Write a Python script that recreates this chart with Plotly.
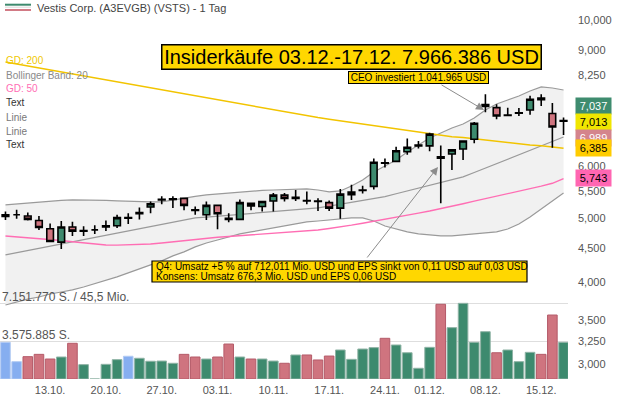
import plotly.graph_objects as go
import numpy as np

# ---------------- data ----------------
dates = ["07.10.", "08.10.", "09.10.", "10.10.", "13.10.", "14.10.", "15.10.", "16.10.", "17.10.",
         "20.10.", "21.10.", "22.10.", "23.10.", "24.10.", "27.10.", "28.10.", "29.10.", "30.10.", "31.10.",
         "03.11.", "04.11.", "05.11.", "06.11.", "07.11.", "10.11.", "11.11.", "12.11.", "13.11.", "14.11.",
         "17.11.", "18.11.", "19.11.", "20.11.", "21.11.", "24.11.", "25.11.", "26.11.", "28.11.",
         "01.12.", "02.12.", "03.12.", "04.12.", "05.12.", "08.12.", "09.12.", "10.12.", "11.12.", "12.12.",
         "15.12.", "16.12.", "17.12."]

opens = [5.03, 5.06, 5.04, 4.96, 4.82, 4.60, 4.85, 4.78, 4.80, 4.85, 4.87, 5.00, 5.08, 5.20, 5.33, 5.34,
         5.36, 5.15, 5.06, 5.23, 5.00, 4.98, 5.27, 5.21, 5.31, 5.42, 5.36, 5.32, 5.31, 5.28, 5.18, 5.43,
         5.51, 5.59, 6.07, 6.10, 6.31, 6.44, 6.44, 6.17, 6.26, 6.37, 6.59, 7.44, 7.36, 7.16, 7.22, 7.30,
         7.61, 7.21, 7.02]
highs = [5.12, 5.15, 5.10, 5.04, 4.91, 4.95, 4.94, 4.86, 4.88, 4.96, 5.06, 5.09, 5.19, 5.30, 5.40, 5.40,
         5.36, 5.21, 5.30, 5.23, 5.09, 5.34, 5.27, 5.30, 5.46, 5.46, 5.52, 5.49, 5.36, 5.32, 5.54, 5.62,
         5.60, 6.16, 6.16, 6.42, 6.61, 6.55, 6.74, 6.45, 6.35, 6.55, 7.00, 7.71, 7.45, 7.36, 7.35, 7.67,
         7.71, 7.48, 7.11]
lows = [4.97, 4.99, 4.96, 4.80, 4.61, 4.49, 4.70, 4.70, 4.73, 4.78, 4.83, 4.90, 4.98, 5.09, 5.25, 5.18,
        5.14, 5.06, 4.97, 4.81, 4.93, 4.98, 5.14, 5.12, 5.12, 5.30, 5.31, 5.25, 5.13, 5.13, 4.99, 5.33,
        5.45, 5.53, 5.97, 6.10, 6.24, 6.38, 6.32, 5.27, 5.92, 6.13, 6.50, 7.24, 7.07, 7.15, 7.15, 7.18,
        7.40, 6.40, 6.69]
closes = [5.06, 5.06, 4.98, 4.84, 4.61, 4.85, 4.78, 4.79, 4.80, 4.87, 5.01, 5.01, 5.10, 5.26, 5.34, 5.35,
          5.23, 5.14, 5.23, 5.08, 4.98, 5.28, 5.22, 5.30, 5.42, 5.36, 5.38, 5.31, 5.30, 5.18, 5.44, 5.48,
          5.52, 6.08, 6.06, 6.33, 6.41, 6.46, 6.71, 6.20, 6.35, 6.55, 6.97, 7.39, 7.15, 7.17, 7.23, 7.58,
          7.57, 6.88, 7.037]
volumes = [3450000, 1630000, 2100000, 2320000, 1880000, 2070000, 3360000, 1350000, 0, 1380000,
           1820000, 2140000, 1950000, 1670000, 1690000, 1480000, 2320000, 2070000, 1880000, 2070000,
           3290000, 2070000, 1880000, 1880000, 1690000, 1480000, 2260000, 2260000, 1790000, 2160000,
           2730000, 1850000, 2820000, 2950000, 3830000, 3200000, 2470000, 1010000, 2980000, 7030000,
           4830000, 7120000, 3450000, 4450000, 2470000, 2730000, 1630000, 2510000, 2320000, 6020000,
           3450000]

bb_upper = [5.238, 5.256, 5.274, 5.293, 5.311, 5.321, 5.330, 5.330, 5.330, 5.321, 5.311, 5.302, 5.293,
            5.293, 5.293, 5.330, 5.368, 5.396, 5.424, 5.443, 5.462, 5.481, 5.500, 5.510, 5.519, 5.529,
            5.539, 5.539, 5.519, 5.481, 5.500, 5.597, 5.715, 5.878, 6.003, 6.129, 6.304, 6.460, 6.620,
            6.736, 6.855, 6.952, 7.099, 7.300, 7.455, 7.560, 7.666, 7.802, 7.912, 7.884, 7.829]
bb_middle = [4.398, 4.432, 4.466, 4.499, 4.534, 4.570, 4.604, 4.640, 4.674, 4.710, 4.747, 4.782, 4.819,
             4.856, 4.893, 4.931, 4.968, 5.005, 5.020, 5.036, 5.052, 5.068, 5.084, 5.102, 5.118, 5.134,
             5.150, 5.166, 5.183, 5.215, 5.249, 5.284, 5.317, 5.351, 5.394, 5.447, 5.500, 5.554, 5.608,
             5.664, 5.719, 5.777, 5.866, 5.958, 6.050, 6.146, 6.241, 6.341, 6.443, 6.546, 6.643]
bb_lower = [3.691, 3.730, 3.769, 3.796, 3.836, 3.863, 3.891, 3.931, 3.975, 4.017, 4.073, 4.130, 4.188,
            4.247, 4.307, 4.383, 4.445, 4.523, 4.586, 4.634, 4.683, 4.733, 4.766, 4.799, 4.832, 4.866,
            4.900, 4.935, 4.952, 4.969, 4.987, 5.005, 5.005, 4.952, 4.866, 4.816, 4.766, 4.733, 4.716,
            4.700, 4.700, 4.716, 4.733, 4.749, 4.766, 4.816, 4.900, 5.022, 5.165, 5.311, 5.462]
gd50 = [4.700, 4.687, 4.673, 4.659, 4.643, 4.626, 4.605, 4.586, 4.565, 4.554, 4.551, 4.554, 4.560, 4.570,
        4.586, 4.605, 4.626, 4.646, 4.664, 4.678, 4.691, 4.703, 4.716, 4.728, 4.741, 4.754, 4.768, 4.782,
        4.799, 4.824, 4.849, 4.880, 4.914, 4.947, 4.978, 5.013, 5.051, 5.090, 5.128, 5.168, 5.213, 5.260,
        5.307, 5.352, 5.400, 5.449, 5.497, 5.545, 5.594, 5.650, 5.743]
gd200 = [8.634, 8.574, 8.514, 8.455, 8.396, 8.338, 8.280, 8.222, 8.165, 8.107, 8.051, 7.995, 7.939, 7.884,
         7.829, 7.774, 7.720, 7.666, 7.613, 7.560, 7.507, 7.455, 7.403, 7.352, 7.300, 7.249, 7.199, 7.149,
         7.110, 7.070, 7.030, 6.990, 6.940, 6.910, 6.870, 6.830, 6.790, 6.750, 6.720, 6.680, 6.650, 6.630,
         6.600, 6.570, 6.540, 6.520, 6.490, 6.460, 6.440, 6.410, 6.385]

tick_dates = ["13.10.", "20.10.", "27.10.", "03.11.", "10.11.", "17.11.", "24.11.", "01.12.", "08.12.", "15.12."]
price_ticks = [3.0, 3.25, 3.5, 4.0, 4.5, 5.0, 5.5, 6.0, 8.25, 9.0, 10.0]
price_tick_text = ["3,000", "3,250", "3,500", "4,000", "4,500", "5,000", "5,500", "6,000", "8,250", "9,000", "10,000"]
vol_grid = [3575885, 7151770]
vol_grid_text = ["3.575.885 S.", "7.151.770 S. / 45,5 Mio."]
last_values = [7.037, 7.013, 6.989, 6.385, 5.743]
legend_items = ["GD: 200", "Bollinger Band: 20", "GD: 50", "Text", "Linie", "Linie", "Text"]
title_text = "Vestis Corp. (A3EVGB) (VSTS) - 1 Tag"
insider_text = "Insiderkäufe 03.12.-17.12. 7.966.386 USD"
ceo_text = "CEO investiert 1.041.965 USD"
q4_lines = ["Q4: Umsatz +5 % auf 712,011 Mio. USD und EPS sinkt von 0,11 USD auf 0,03 USD",
            "Konsens: Umsatz 676,3 Mio. USD und EPS 0,06 USD"]

# ---------------- layout helpers ----------------
W, H = 619, 399
PW, PH = 568, 379          # plot area in pixels
FONT = "Liberation Sans, Arial, sans-serif"
def pxx(x): return x / PW
def pxy(y): return 1 - y / PH

xi = list(range(len(dates)))
GREEN, RED, BLUE = "#3d8a6e", "#cf747f", "#86aef0"

vol_colors, vol_lines = [], []
for i, c in enumerate(closes):
    if i == 0 or round(c - closes[i - 1], 4) == 0:
        vol_colors.append(BLUE); vol_lines.append("#b3cbf3")
    elif c > closes[i - 1]:
        vol_colors.append(GREEN); vol_lines.append("#8fb3a5")
    else:
        vol_colors.append(RED); vol_lines.append("#b45a68")

fig = go.Figure()
fig.add_trace(go.Scatter(x=xi, y=bb_upper, mode="lines", line=dict(color="#9a9a9a", width=1.2),
                         hoverinfo="skip", showlegend=False))
fig.add_trace(go.Scatter(x=xi, y=bb_lower, mode="lines", line=dict(color="#9a9a9a", width=1.2),
                         fill="tonexty", fillcolor="#f1f1f1", hoverinfo="skip", showlegend=False))
fig.add_trace(go.Scatter(x=xi, y=bb_middle, mode="lines", line=dict(color="#9a9a9a", width=1.2),
                         hoverinfo="skip", showlegend=False))
fig.add_trace(go.Scatter(x=xi, y=gd50, mode="lines", line=dict(color="#ff6eb4", width=1.4),
                         hoverinfo="skip", showlegend=False))
fig.add_trace(go.Scatter(x=xi, y=gd200, mode="lines", line=dict(color="#f2c400", width=1.5),
                         hoverinfo="skip", showlegend=False))
fig.add_trace(go.Bar(x=xi, y=volumes, yaxis="y2", width=0.86,
                     marker=dict(color=vol_colors, line=dict(color=vol_lines, width=1)),
                     showlegend=False, hoverinfo="skip"))
fig.add_trace(go.Candlestick(x=xi, open=opens, high=highs, low=lows, close=closes, yaxis="y3",
                             increasing=dict(fillcolor=GREEN, line=dict(color="black", width=1.6)),
                             decreasing=dict(fillcolor=RED, line=dict(color="black", width=1.6)),
                             whiskerwidth=0, showlegend=False, hoverinfo="skip"))

vol_top = vol_grid[1] * PH / 76.0
LOG_RANGE = [0.45484, 1.03036]

fig.update_layout(
    width=W, height=H,
    margin=dict(l=0, r=W - PW, t=0, b=H - PH, pad=0),
    paper_bgcolor="white", plot_bgcolor="white",
    font=dict(family=FONT, size=11, color="#555555"),
    boxgap=0.15, bargap=0.14,
    xaxis=dict(range=[-0.49, 50.4], showgrid=False, zeroline=False, showline=False, ticks="",
               tickmode="array", tickvals=[dates.index(d) for d in tick_dates], ticktext=tick_dates,
               tickfont=dict(size=11, color="#555555"), rangeslider=dict(visible=False), fixedrange=True,
               automargin=False, ticklabelstandoff=3),
    yaxis=dict(type="log", range=LOG_RANGE, side="right", showgrid=False, zeroline=False,
               showline=False, ticks="", tickmode="array", tickvals=price_ticks, ticktext=price_tick_text,
               tickfont=dict(size=11, color="#555555"), ticklabelstandoff=9, automargin=False),
    yaxis2=dict(overlaying="y", range=[0, vol_top], side="left", showticklabels=False, showgrid=True,
                gridcolor="#dedede", gridwidth=1, zeroline=False, showline=False, ticks="",
                tickmode="array", tickvals=vol_grid, automargin=False),
    yaxis3=dict(overlaying="y", type="log", range=LOG_RANGE, side="right", showticklabels=False,
                showgrid=False, zeroline=False, showline=False, ticks="", automargin=False),
)

ann = []
# title
ann.append(dict(xref="paper", yref="paper", x=pxx(35), y=pxy(8), xanchor="left", yanchor="middle",
                text=title_text, showarrow=False, font=dict(size=11, color="#444444")))
# legend texts
leg_colors = ["#f0c800", "#8a8a8a", "#ff6eb4", "#333333", "#777777", "#777777", "#333333"]
for k, (t, c) in enumerate(zip(legend_items, leg_colors)):
    ann.append(dict(xref="paper", yref="paper", x=pxx(4), y=pxy(61 + 14 * k), xanchor="left",
                    yanchor="middle", text=t, showarrow=False, font=dict(size=10, color=c)))
# volume grid labels
for v, t in zip(vol_grid, vol_grid_text):
    ypix = PH - 76.0 * v / vol_grid[1]
    ann.append(dict(xref="paper", yref="paper", x=0, y=pxy(ypix - 6), xanchor="left", yanchor="middle",
                    text=t, showarrow=False, font=dict(size=12, color="#555555")))
# arrows
ann.append(dict(xref="paper", yref="paper", x=pxx(484), y=pxy(110), ax=-44, ay=-26, axref="pixel",
                ayref="pixel", text="", showarrow=True, arrowhead=2, arrowsize=1.6, arrowwidth=1,
                arrowcolor="#8c8c8c"))
ann.append(dict(xref="paper", yref="paper", x=pxx(438), y=pxy(167), ax=-72, ay=92, axref="pixel",
                ayref="pixel", text="", showarrow=True, arrowhead=2, arrowsize=1.6, arrowwidth=1,
                arrowcolor="#8c8c8c"))
# boxed notes
ann.append(dict(xref="paper", yref="paper", x=pxx(351), y=pxy(56.5), xanchor="center", yanchor="middle",
                text=insider_text, showarrow=False, font=dict(size=20, color="black"),
                bgcolor="#ffd700", bordercolor="black", borderwidth=1.5, borderpad=1, width=376, height=21))
ann.append(dict(xref="paper", yref="paper", x=pxx(418.5), y=pxy(77.5), xanchor="center", yanchor="middle",
                text=ceo_text, showarrow=False, font=dict(size=10, color="black"),
                bgcolor="#ffd700", bordercolor="black", borderwidth=1, borderpad=0, width=139, height=11))
# Q4 box: rectangle + two text lines
fig.add_shape(type="rect", xref="paper", yref="paper", x0=pxx(152), x1=pxx(527), y0=pxy(261), y1=pxy(282),
              fillcolor="#ffd700", line=dict(color="black", width=1.2), layer="above")
for k, t in enumerate(q4_lines):
    ann.append(dict(xref="paper", yref="paper", x=pxx(153.5), y=pxy(266 + 10.5 * k), xanchor="left",
                    yanchor="middle", text=t, showarrow=False, font=dict(size=10, color="black")))
# last-value boxes on the right axis
box_bg = ["#3f8c6f", "#f0e600", "#d4848c", "#ffcc00", "#ff66b2"]
box_fg = ["white", "black", "white", "black", "black"]
box_y = [106, 122, 137.5, 148, 178]
for v, bg, fg, yy in zip(last_values, box_bg, box_fg, box_y):
    ann.append(dict(xref="paper", yref="paper", x=pxx(575), y=pxy(yy), xanchor="left", yanchor="middle",
                    text=f"{v:.3f}".replace(".", ","), showarrow=False, font=dict(size=11, color=fg),
                    bgcolor=bg, borderpad=1, width=33, height=14))
fig.update_layout(annotations=ann)

# small title icon
fig.add_shape(type="line", xref="paper", yref="paper", x0=pxx(5), x1=pxx(31), y0=pxy(4.7), y1=pxy(4.7),
              line=dict(color=GREEN, width=2))
fig.add_shape(type="line", xref="paper", yref="paper", x0=pxx(5), x1=pxx(31), y0=pxy(7.2), y1=pxy(7.2),
              line=dict(color="#d8d8d8", width=1))
fig.add_shape(type="line", xref="paper", yref="paper", x0=pxx(5), x1=pxx(31), y0=pxy(10), y1=pxy(10),
              line=dict(color="#d27a85", width=2))

fig.write_html("out.html", config={"displayModeBar": False},
               post_script="document.body.style.margin='0px';")
